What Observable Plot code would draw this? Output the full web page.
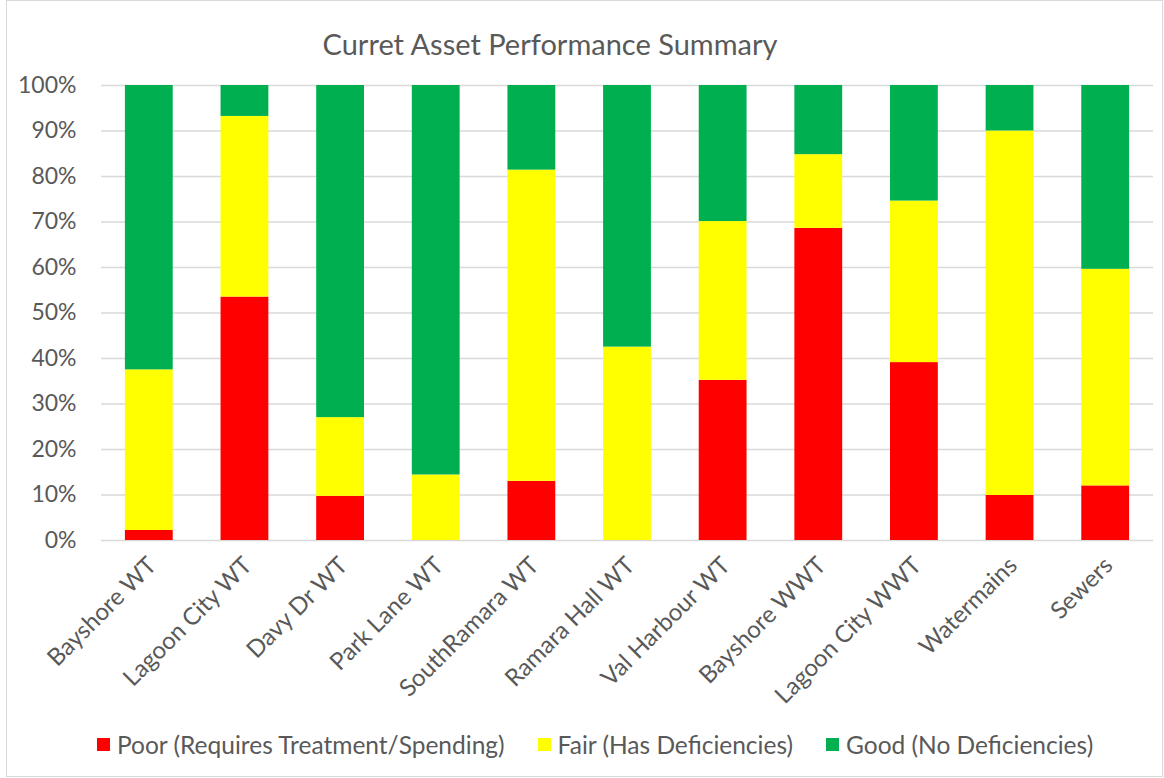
<!DOCTYPE html>
<html>
<head>
<meta charset="utf-8">
<script src="https://cdn.jsdelivr.net/npm/d3@7"></script>
<script src="https://cdn.jsdelivr.net/npm/@observablehq/plot@0.6"></script>
<style>
  html, body { margin: 0; padding: 0; background: #fff; }
  body { width: 1164px; height: 778px; position: relative; overflow: hidden; font-family: Lato, "Open Sans", sans-serif; color: #595959; }
  #frame { position: absolute; left: 6px; top: 0px; width: 1155px; height: 775px; border: 1px solid #d9d9d9; }
  #title { position: absolute; left: 0; width: 1100px; top: 26px; text-align: center; font-size: 29px; color: #595959; }
  #chart { position: absolute; left: 0; top: 0; }
  #legend { position: absolute; top: 730px; left: 97px; display: flex; align-items: center; font-size: 24.5px; color: #595959; white-space: nowrap; }
  .item { display: flex; align-items: center; margin-right: 33px; }
  .sw { width: 13px; height: 13px; margin-right: 7px; }
</style>
</head>
<body>
<div id="frame"></div>
<div id="title">Curret Asset Performance Summary</div>
<div id="chart"></div>
<div id="legend"></div>
<script>
const categories = ["Bayshore WT", "Lagoon City WT", "Davy Dr WT", "Park Lane WT", "SouthRamara WT", "Ramara Hall WT", "Val Harbour WT", "Bayshore WWT", "Lagoon City WWT", "Watermains", "Sewers"];
const poor = [2.2, 53.5, 9.7, 0, 13.0, 0, 35.2, 68.6, 39.1, 9.9, 12.0];
const fair = [35.3, 39.7, 17.3, 14.4, 68.4, 42.5, 34.9, 16.2, 35.5, 80.1, 47.6];
const good = [62.5, 6.8, 73.0, 85.6, 18.6, 57.5, 29.9, 15.2, 25.4, 10.0, 40.4];
const seriesNames = ["Poor (Requires Treatment/Spending)", "Fair (Has Deficiencies)", "Good (No Deficiencies)"];
const seriesColors = ["#ff0000", "#ffff00", "#00b050"];
const yTicks = [0, 10, 20, 30, 40, 50, 60, 70, 80, 90, 100];

const rows = [];
categories.forEach((c, i) => {
  rows.push({category: c, series: seriesNames[0], value: poor[i]});
  rows.push({category: c, series: seriesNames[1], value: fair[i]});
  rows.push({category: c, series: seriesNames[2], value: good[i]});
});

const plot = Plot.plot({
  width: 1164,
  height: 720,
  marginTop: 85,
  marginBottom: 180,
  marginLeft: 101,
  marginRight: 11,
  style: { fontFamily: "Lato, 'Open Sans', sans-serif", color: "#595959", background: "transparent", overflow: "visible" },
  x: { domain: categories, paddingInner: 0.5, paddingOuter: 0.25, round: false, label: null },
  y: { domain: [0, 100], label: null },
  color: { domain: seriesNames, range: seriesColors },
  marks: [
    Plot.gridY(yTicks, { stroke: "#d9d9d9", strokeOpacity: 1, strokeWidth: 1.3 }),
    Plot.barY(rows, { x: "category", y: "value", fill: "series", order: seriesNames }),
    Plot.axisY(yTicks, { tickSize: 0, tickPadding: 25, tickFormat: d => d + "%", fontSize: 23, fill: "#595959", label: null }),
    Plot.axisX({ tickSize: 0, tickPadding: 21, dx: 3, tickRotate: -45, fontSize: 24, fill: "#595959", label: null })
  ]
});
document.getElementById("chart").appendChild(plot);

const legend = document.getElementById("legend");
seriesNames.forEach((n, i) => {
  const it = document.createElement("div");
  it.className = "item";
  const sw = document.createElement("div");
  sw.className = "sw";
  sw.style.background = seriesColors[i];
  const t = document.createElement("span");
  t.textContent = n;
  it.appendChild(sw); it.appendChild(t);
  legend.appendChild(it);
});
</script>
</body>
</html>
